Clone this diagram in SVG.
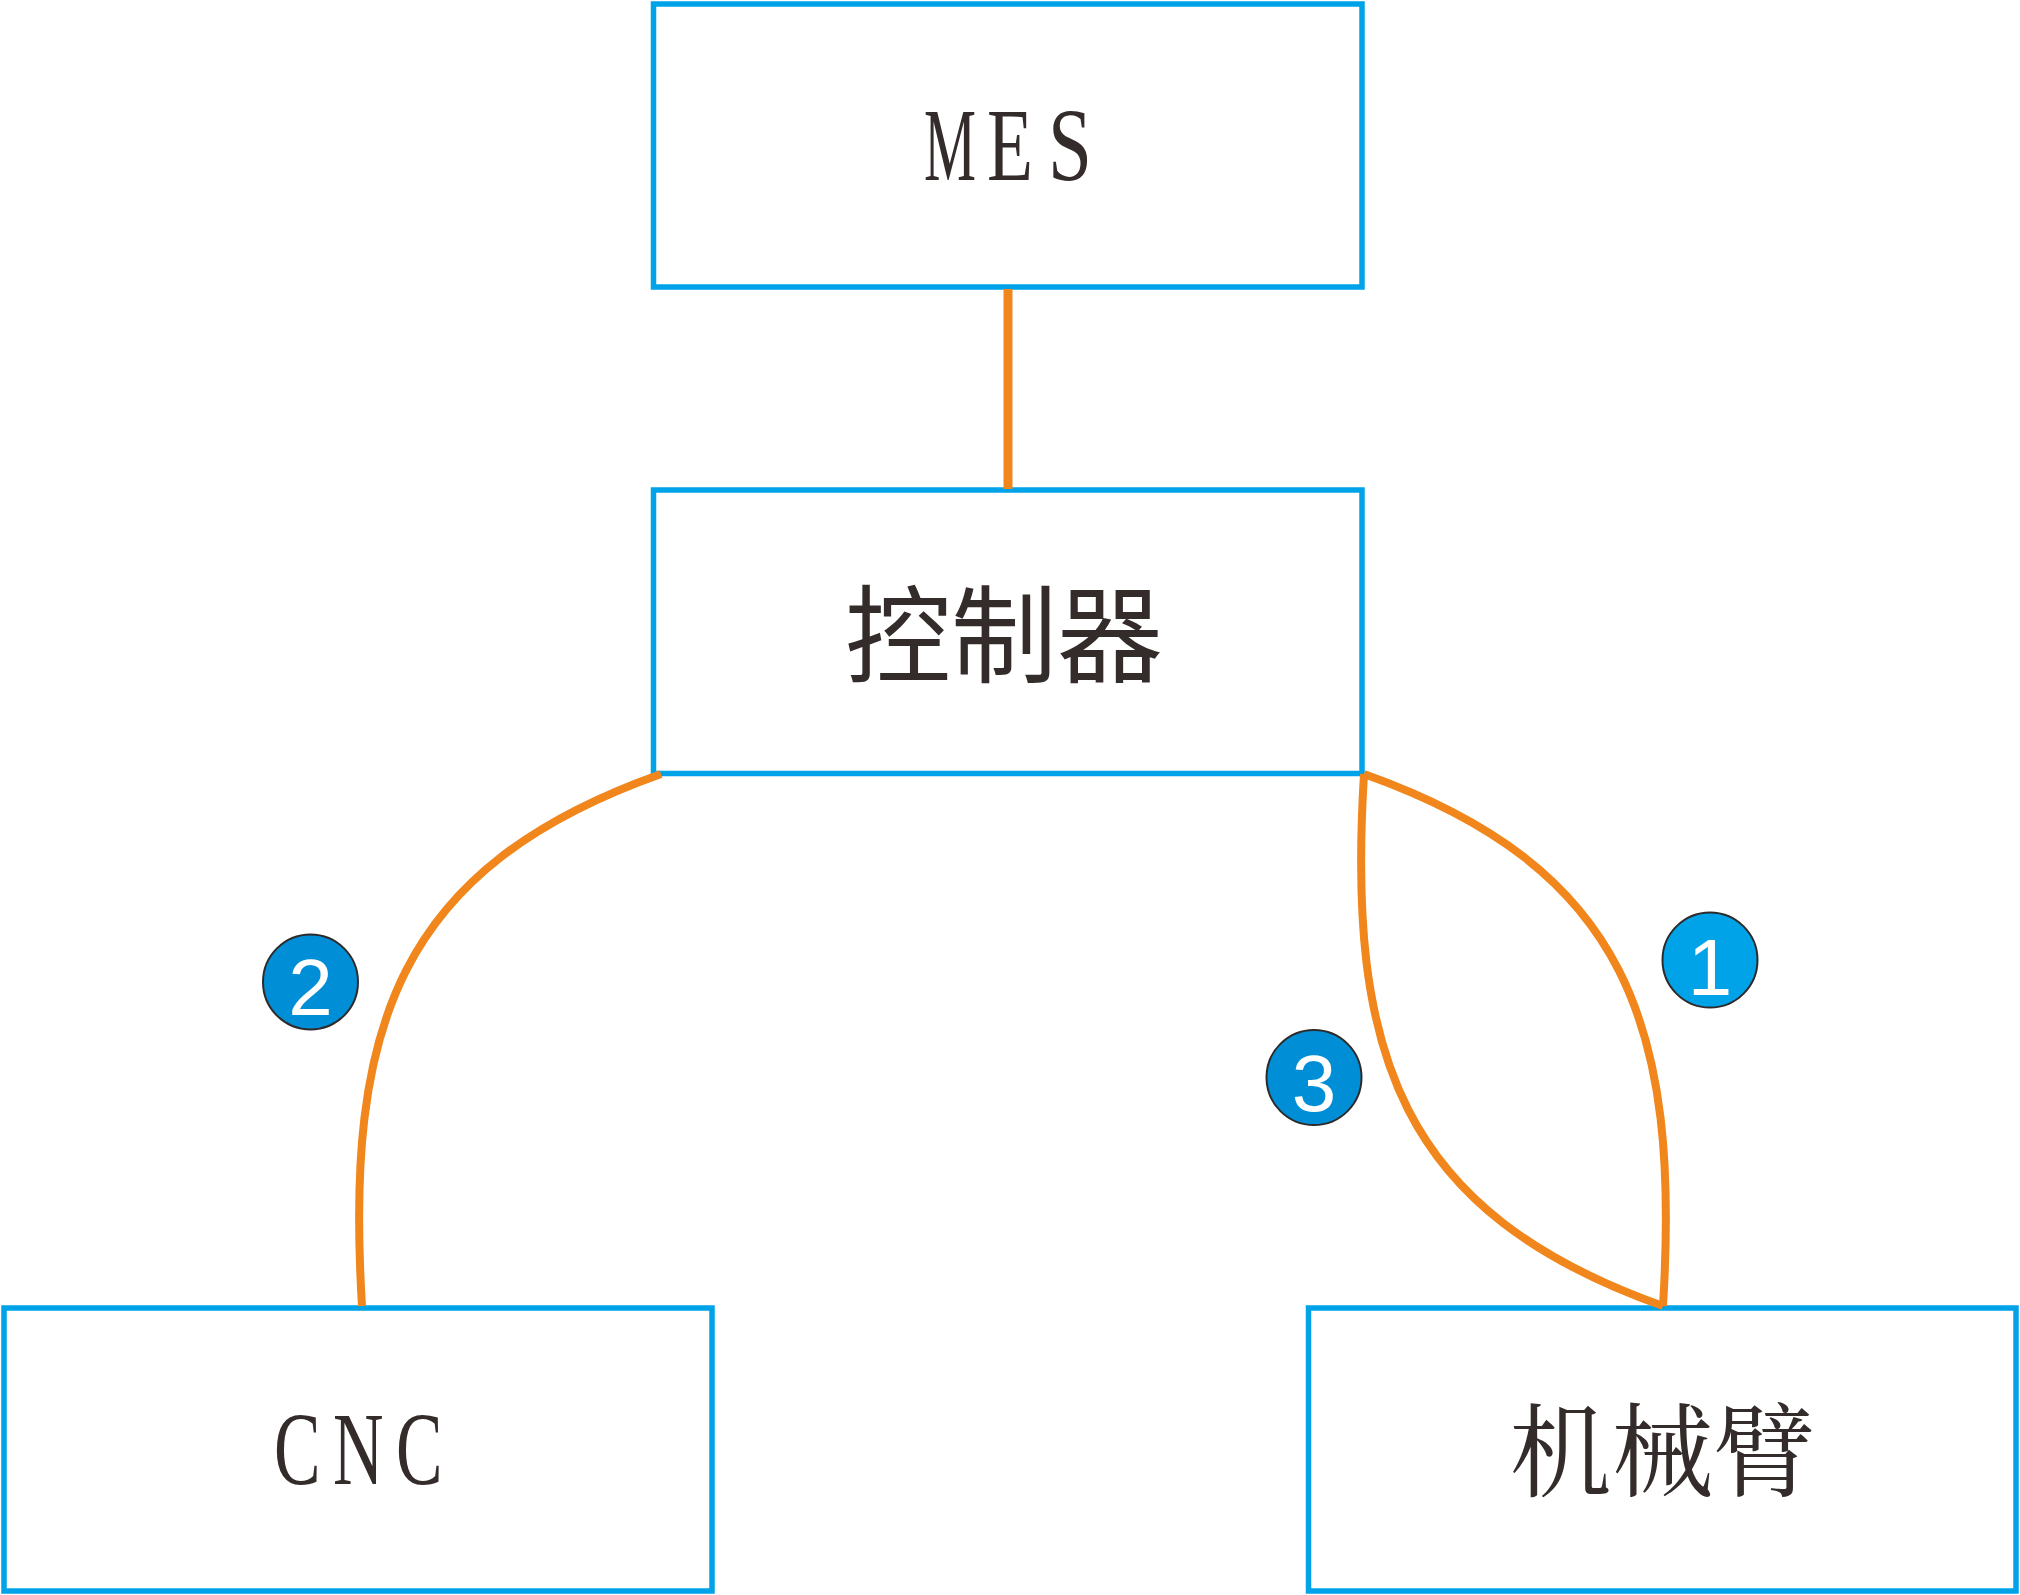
<svg xmlns="http://www.w3.org/2000/svg" width="2020" height="1595" viewBox="0 0 2020 1595">
<style>
.box{fill:#ffffff;stroke:#00A3E8;stroke-width:5.5}
.conn{fill:none;stroke:#F0861C;stroke-width:8;stroke-linecap:butt}
.lat{font-family:"Liberation Serif","Times New Roman",serif;font-size:103px;fill:#342C2B}
.cjk{font-family:"Noto Sans CJK SC",sans-serif;fill:#342C2B}
.song{font-family:"Noto Serif CJK SC","Noto Sans CJK SC",serif;fill:#342C2B}
.badge{stroke:#2E2A2A;stroke-width:2}
.num{font-family:"Liberation Sans",Arial,sans-serif;font-size:80px;fill:#ffffff;text-anchor:middle}
</style>
<rect width="2020" height="1595" fill="#ffffff"/>
<g id="node-mes">
<rect class="box" x="653.5" y="4" width="708.5" height="283"/>
<text class="lat" transform="translate(924,180) scale(0.568,1)">M</text>
<text class="lat" transform="translate(987,180) scale(0.731,1)">E</text>
<text class="lat" transform="translate(1048,180) scale(0.768,1)">S</text>
</g>
<g id="node-controller">
<rect class="box" x="653.5" y="490" width="708.5" height="283.5"/>
<text class="cjk" x="1004" y="674" font-size="106" text-anchor="middle">控制器</text>
</g>
<g id="node-cnc">
<rect class="box" x="4" y="1308" width="708" height="283"/>
<text class="lat" font-size="104" transform="translate(274,1484) scale(0.677,1)">C</text>
<text class="lat" font-size="104" transform="translate(333,1484) scale(0.679,1)">N</text>
<text class="lat" font-size="104" transform="translate(396,1484) scale(0.677,1)">C</text>
</g>
<g id="node-arm">
<rect class="box" x="1308.5" y="1308" width="707.5" height="283"/>
<text class="song" x="1662.5" y="1489" font-size="102" text-anchor="middle">机械臂</text>
</g>
<g id="connectors">
<line class="conn" x1="1008" y1="289" x2="1008" y2="489" style="stroke-width:9"/>
<path class="conn" d="M661,774 C397.2,867.8 344.9,1026.6 362,1306"/>
<path class="conn" d="M1364,774 C1627.8,867.8 1680.1,1026.6 1663,1306"/>
<path class="conn" d="M1364,774 C1346.9,1053.4 1399.2,1212.2 1663,1306"/>
</g>
<g id="badge-1">
<circle class="badge" cx="1710" cy="960" r="47.5" fill="#00A3E8"/>
<text class="num" x="1710" y="995">1</text>
</g>
<g id="badge-2">
<circle class="badge" cx="310.5" cy="982" r="47.5" fill="#008FD6"/>
<text class="num" x="310.5" y="1015">2</text>
</g>
<g id="badge-3">
<circle class="badge" cx="1314" cy="1077.5" r="47.5" fill="#008FD6"/>
<text class="num" x="1314" y="1111">3</text>
</g>
</svg>
